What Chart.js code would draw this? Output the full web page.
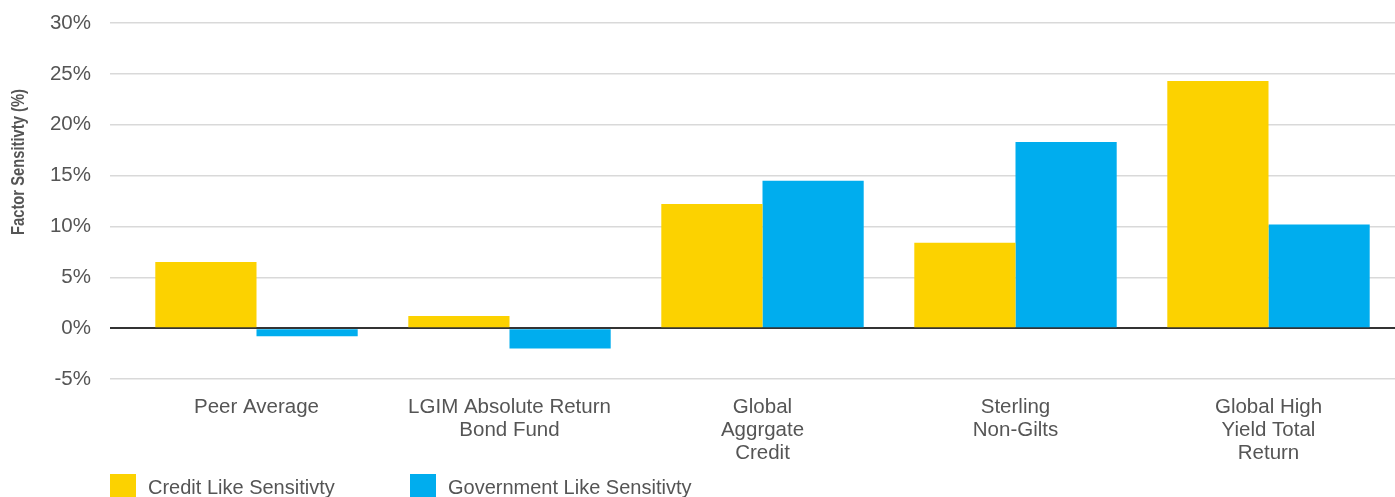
<!DOCTYPE html>
<html>
<head>
<meta charset="utf-8">
<script src="https://cdn.jsdelivr.net/npm/chart.js@4/dist/chart.umd.min.js"></script>
<style>
  html, body { margin: 0; padding: 0; background: #fff; }
  #wrap { position: relative; width: 1395px; height: 497px; overflow: hidden; }
  #legend { position: absolute; left: 110px; top: 474px; font-family: "Liberation Sans", Arial, sans-serif; font-size: 20px; color: #555; }
  .item { position: absolute; top: 0; white-space: nowrap; }
  .box { position: absolute; top: 0; width: 26px; height: 23px; }
  .lbl { position: absolute; left: 38px; top: 2px; }
</style>
</head>
<body>
<div id="wrap">
  <canvas id="chart" width="1395" height="497"></canvas>
  <div id="legend"></div>
</div>
<script>
// data
const categories = [['Peer Average'], ['LGIM Absolute Return', 'Bond Fund'], ['Global', 'Aggrgate', 'Credit'], ['Sterling', 'Non-Gilts'], ['Global High', 'Yield Total', 'Return']];
const creditLike = [6.5, 1.2, 12.2, 8.4, 24.3];
const governmentLike = [-0.8, -2.0, 14.5, 18.3, 10.2];
const seriesNames = ['Credit Like Sensitivty', 'Government Like Sensitivty'];
const seriesColors = ['#FCD200', '#00ADEE'];

const FONT = '"Liberation Sans", Arial, sans-serif';

// rotated y-axis title, placed like the reference (condensed look)
const yTitle = {
  id: 'yTitle',
  afterDraw(chart) {
    const c = chart.ctx;
    c.save();
    c.translate(19, 162);
    c.rotate(-Math.PI / 2);
    c.scale(0.82, 1);
    c.font = 'bold 18px ' + FONT;
    c.fillStyle = '#555';
    c.textAlign = 'center';
    c.textBaseline = 'middle';
    c.fillText('Factor Sensitivty (%)', 0, 0);
    c.restore();
  }
};

new Chart(document.getElementById('chart'), {
  type: 'bar',
  data: {
    labels: categories,
    datasets: [
      { label: seriesNames[0], data: creditLike, backgroundColor: seriesColors[0] },
      { label: seriesNames[1], data: governmentLike, backgroundColor: seriesColors[1] }
    ]
  },
  options: {
    responsive: false,
    animation: false,
    categoryPercentage: 0.8,
    barPercentage: 1.0,
    layout: { padding: { top: 23, right: 0, bottom: 30, left: 0 } },
    plugins: { legend: { display: false }, tooltip: { enabled: false } },
    scales: {
      x: {
        afterFit: (s) => { s.height = 88; },
        grid: { display: false },
        border: { display: false },
        ticks: { color: '#555', font: { family: FONT, size: 20.5, lineHeight: 1.12 }, padding: 9, maxRotation: 0, autoSkip: false }
      },
      y: {
        min: -5,
        max: 30,
        afterFit: (s) => { s.width = 130; s.paddingTop = 0; s.paddingBottom = 0; },
        border: { display: false },
        grid: {
          color: (c) => c.tick && c.tick.value === 0 ? '#333' : '#d9d9d9',
          lineWidth: (c) => c.tick && c.tick.value === 0 ? 2 : 1.5,
          tickLength: 20,
          drawTicks: true
        },
        ticks: {
          stepSize: 5,
          color: '#555',
          padding: 19,
          font: { family: FONT, size: 20.5 },
          callback: (v) => v + '%'
        }
      }
    }
  },
  plugins: [yTitle]
});

// legend below the chart
const legend = document.getElementById('legend');
seriesNames.forEach((name, i) => {
  const item = document.createElement('div');
  item.className = 'item';
  item.style.left = (i * 300) + 'px';
  item.innerHTML = '<div class="box" style="background:' + seriesColors[i] + '"></div><div class="lbl">' + name + '</div>';
  legend.appendChild(item);
});
</script>
</body>
</html>
